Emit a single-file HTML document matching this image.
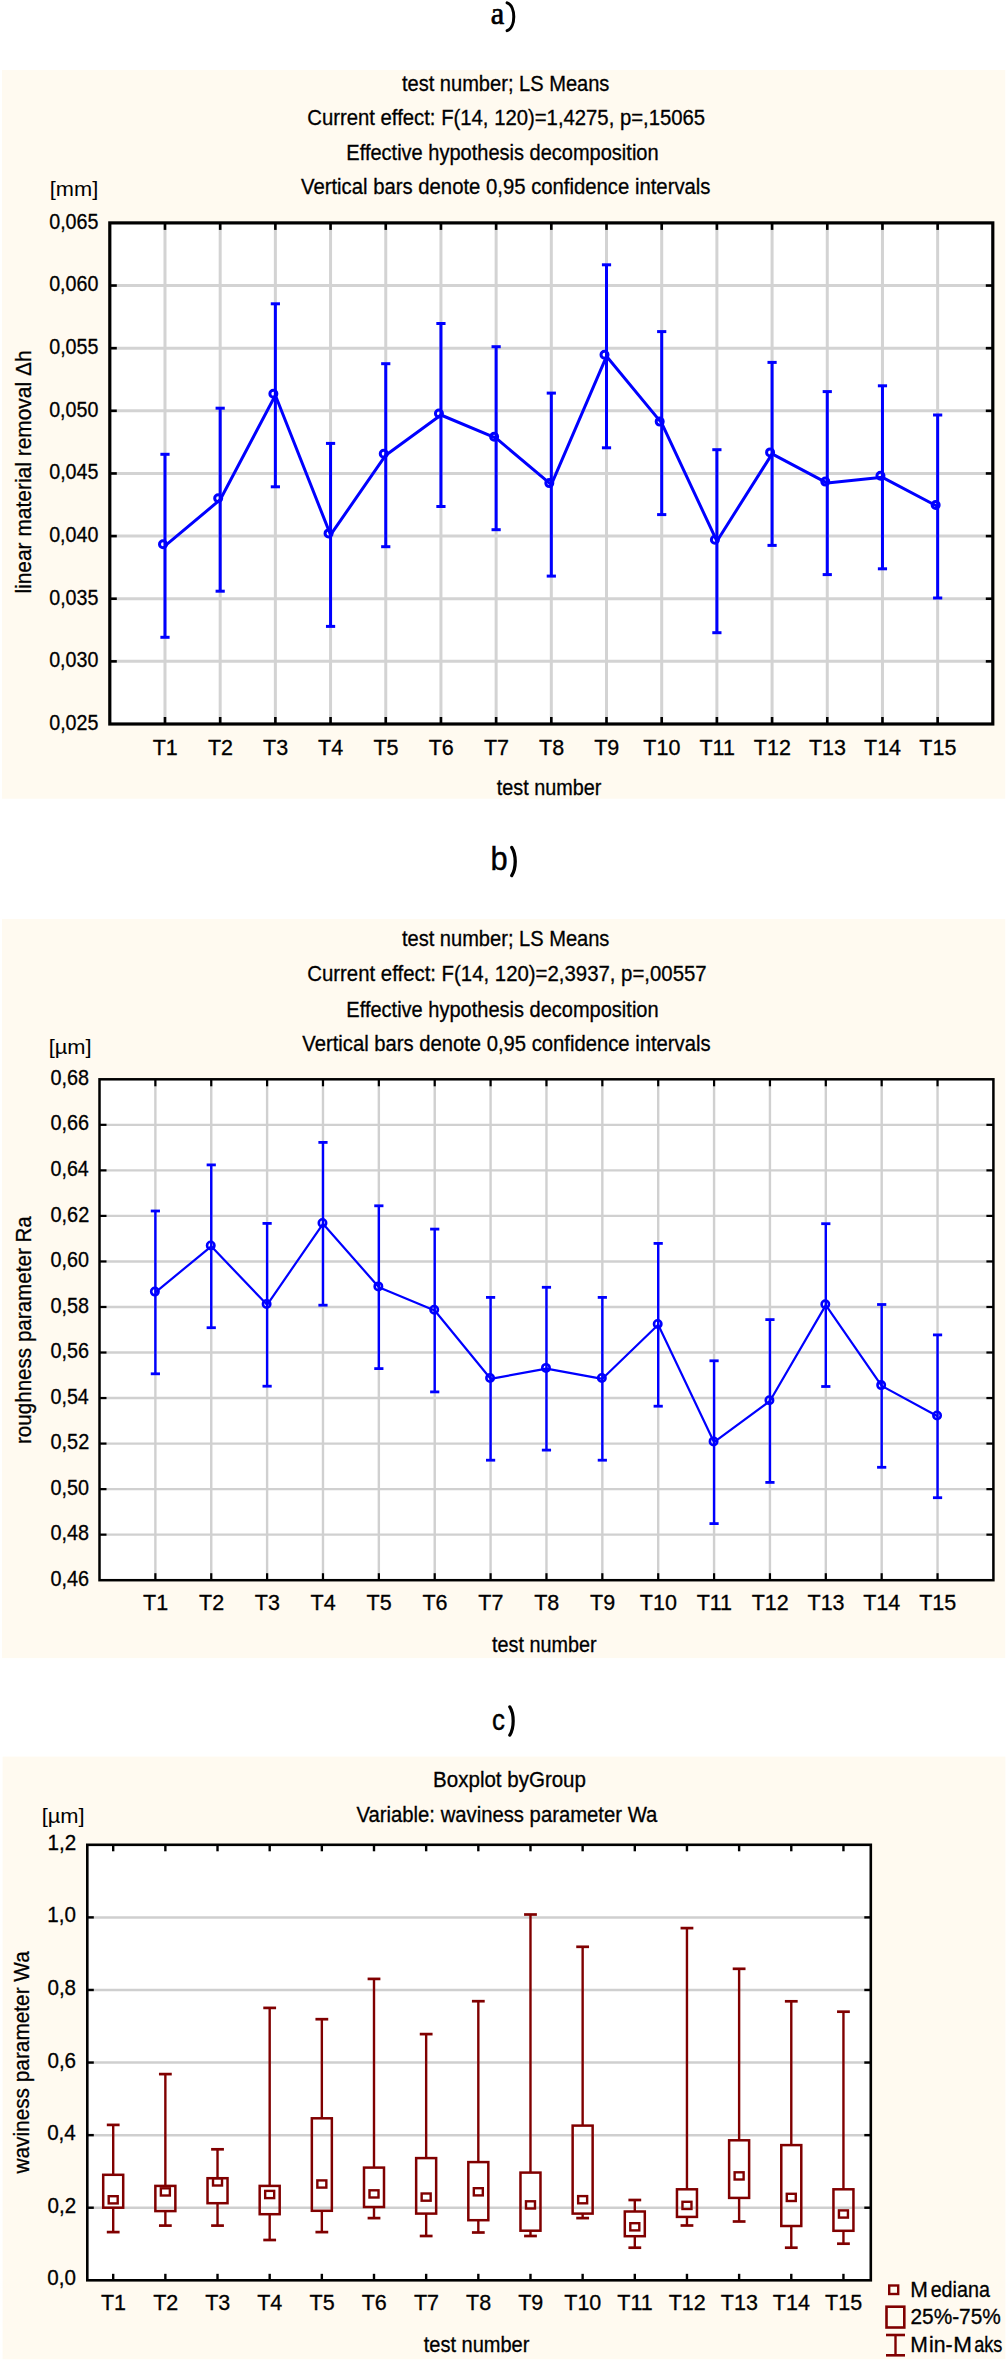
<!DOCTYPE html>
<html><head><meta charset="utf-8"><style>
html,body{margin:0;padding:0;background:#fff;overflow:hidden;}
svg{display:block;}
text{font-family:"Liberation Sans", sans-serif;}
</style></head><body>
<svg width="1008" height="2362" viewBox="0 0 1008 2362">
<text x="490.69" y="23.84" font-size="31.46" fill="#000" stroke="#000" stroke-width="0.7" style='font-family:"Liberation Serif", serif' textLength="13.48" lengthAdjust="spacingAndGlyphs">a</text>
<path d="M507.1 2.8 C516 6,516 27.5,507.1 30.7" fill="none" stroke="#000" stroke-width="3.0" stroke-linecap="round"/>
<text x="490.39" y="870.47" font-size="32.52" fill="#000" stroke="#000" stroke-width="0.4" style='font-family:"Liberation Sans", sans-serif' textLength="17.18" lengthAdjust="spacingAndGlyphs">b</text>
<path d="M511.7 847.4 C516.4 855,516.4 868,511.7 875.6" fill="none" stroke="#000" stroke-width="3.3" stroke-linecap="round"/>
<text x="492.10" y="1729.71" font-size="29.04" fill="#000" stroke="#000" stroke-width="0.4" style='font-family:"Liberation Sans", sans-serif' textLength="12.91" lengthAdjust="spacingAndGlyphs">c</text>
<path d="M509.8 1706.9 C514.3 1714,514.3 1728,509.8 1735.1" fill="none" stroke="#000" stroke-width="3.2" stroke-linecap="round"/>
<rect x="2.00" y="70.00" width="1003.20" height="728.70" fill="#FFFAF0" stroke="none" stroke-width="0" />
<rect x="109.80" y="222.90" width="883.00" height="501.10" fill="#fff" stroke="none" stroke-width="0" />
<line x1="164.99" y1="222.90" x2="164.99" y2="724.00" stroke="#D3D3D3" stroke-width="3.0" />
<line x1="220.18" y1="222.90" x2="220.18" y2="724.00" stroke="#D3D3D3" stroke-width="3.0" />
<line x1="275.37" y1="222.90" x2="275.37" y2="724.00" stroke="#D3D3D3" stroke-width="3.0" />
<line x1="330.56" y1="222.90" x2="330.56" y2="724.00" stroke="#D3D3D3" stroke-width="3.0" />
<line x1="385.75" y1="222.90" x2="385.75" y2="724.00" stroke="#D3D3D3" stroke-width="3.0" />
<line x1="440.94" y1="222.90" x2="440.94" y2="724.00" stroke="#D3D3D3" stroke-width="3.0" />
<line x1="496.13" y1="222.90" x2="496.13" y2="724.00" stroke="#D3D3D3" stroke-width="3.0" />
<line x1="551.32" y1="222.90" x2="551.32" y2="724.00" stroke="#D3D3D3" stroke-width="3.0" />
<line x1="606.51" y1="222.90" x2="606.51" y2="724.00" stroke="#D3D3D3" stroke-width="3.0" />
<line x1="661.70" y1="222.90" x2="661.70" y2="724.00" stroke="#D3D3D3" stroke-width="3.0" />
<line x1="716.89" y1="222.90" x2="716.89" y2="724.00" stroke="#D3D3D3" stroke-width="3.0" />
<line x1="772.08" y1="222.90" x2="772.08" y2="724.00" stroke="#D3D3D3" stroke-width="3.0" />
<line x1="827.27" y1="222.90" x2="827.27" y2="724.00" stroke="#D3D3D3" stroke-width="3.0" />
<line x1="882.46" y1="222.90" x2="882.46" y2="724.00" stroke="#D3D3D3" stroke-width="3.0" />
<line x1="937.65" y1="222.90" x2="937.65" y2="724.00" stroke="#D3D3D3" stroke-width="3.0" />
<line x1="109.80" y1="285.54" x2="992.80" y2="285.54" stroke="#D3D3D3" stroke-width="3.0" />
<line x1="109.80" y1="348.18" x2="992.80" y2="348.18" stroke="#D3D3D3" stroke-width="3.0" />
<line x1="109.80" y1="410.81" x2="992.80" y2="410.81" stroke="#D3D3D3" stroke-width="3.0" />
<line x1="109.80" y1="473.45" x2="992.80" y2="473.45" stroke="#D3D3D3" stroke-width="3.0" />
<line x1="109.80" y1="536.09" x2="992.80" y2="536.09" stroke="#D3D3D3" stroke-width="3.0" />
<line x1="109.80" y1="598.73" x2="992.80" y2="598.73" stroke="#D3D3D3" stroke-width="3.0" />
<line x1="109.80" y1="661.36" x2="992.80" y2="661.36" stroke="#D3D3D3" stroke-width="3.0" />
<line x1="164.99" y1="222.90" x2="164.99" y2="229.90" stroke="#000" stroke-width="2.6" />
<line x1="164.99" y1="724.00" x2="164.99" y2="717.00" stroke="#000" stroke-width="2.6" />
<line x1="220.18" y1="222.90" x2="220.18" y2="229.90" stroke="#000" stroke-width="2.6" />
<line x1="220.18" y1="724.00" x2="220.18" y2="717.00" stroke="#000" stroke-width="2.6" />
<line x1="275.37" y1="222.90" x2="275.37" y2="229.90" stroke="#000" stroke-width="2.6" />
<line x1="275.37" y1="724.00" x2="275.37" y2="717.00" stroke="#000" stroke-width="2.6" />
<line x1="330.56" y1="222.90" x2="330.56" y2="229.90" stroke="#000" stroke-width="2.6" />
<line x1="330.56" y1="724.00" x2="330.56" y2="717.00" stroke="#000" stroke-width="2.6" />
<line x1="385.75" y1="222.90" x2="385.75" y2="229.90" stroke="#000" stroke-width="2.6" />
<line x1="385.75" y1="724.00" x2="385.75" y2="717.00" stroke="#000" stroke-width="2.6" />
<line x1="440.94" y1="222.90" x2="440.94" y2="229.90" stroke="#000" stroke-width="2.6" />
<line x1="440.94" y1="724.00" x2="440.94" y2="717.00" stroke="#000" stroke-width="2.6" />
<line x1="496.13" y1="222.90" x2="496.13" y2="229.90" stroke="#000" stroke-width="2.6" />
<line x1="496.13" y1="724.00" x2="496.13" y2="717.00" stroke="#000" stroke-width="2.6" />
<line x1="551.32" y1="222.90" x2="551.32" y2="229.90" stroke="#000" stroke-width="2.6" />
<line x1="551.32" y1="724.00" x2="551.32" y2="717.00" stroke="#000" stroke-width="2.6" />
<line x1="606.51" y1="222.90" x2="606.51" y2="229.90" stroke="#000" stroke-width="2.6" />
<line x1="606.51" y1="724.00" x2="606.51" y2="717.00" stroke="#000" stroke-width="2.6" />
<line x1="661.70" y1="222.90" x2="661.70" y2="229.90" stroke="#000" stroke-width="2.6" />
<line x1="661.70" y1="724.00" x2="661.70" y2="717.00" stroke="#000" stroke-width="2.6" />
<line x1="716.89" y1="222.90" x2="716.89" y2="229.90" stroke="#000" stroke-width="2.6" />
<line x1="716.89" y1="724.00" x2="716.89" y2="717.00" stroke="#000" stroke-width="2.6" />
<line x1="772.08" y1="222.90" x2="772.08" y2="229.90" stroke="#000" stroke-width="2.6" />
<line x1="772.08" y1="724.00" x2="772.08" y2="717.00" stroke="#000" stroke-width="2.6" />
<line x1="827.27" y1="222.90" x2="827.27" y2="229.90" stroke="#000" stroke-width="2.6" />
<line x1="827.27" y1="724.00" x2="827.27" y2="717.00" stroke="#000" stroke-width="2.6" />
<line x1="882.46" y1="222.90" x2="882.46" y2="229.90" stroke="#000" stroke-width="2.6" />
<line x1="882.46" y1="724.00" x2="882.46" y2="717.00" stroke="#000" stroke-width="2.6" />
<line x1="937.65" y1="222.90" x2="937.65" y2="229.90" stroke="#000" stroke-width="2.6" />
<line x1="937.65" y1="724.00" x2="937.65" y2="717.00" stroke="#000" stroke-width="2.6" />
<line x1="109.80" y1="285.54" x2="116.80" y2="285.54" stroke="#000" stroke-width="2.6" />
<line x1="992.80" y1="285.54" x2="985.80" y2="285.54" stroke="#000" stroke-width="2.6" />
<line x1="109.80" y1="348.18" x2="116.80" y2="348.18" stroke="#000" stroke-width="2.6" />
<line x1="992.80" y1="348.18" x2="985.80" y2="348.18" stroke="#000" stroke-width="2.6" />
<line x1="109.80" y1="410.81" x2="116.80" y2="410.81" stroke="#000" stroke-width="2.6" />
<line x1="992.80" y1="410.81" x2="985.80" y2="410.81" stroke="#000" stroke-width="2.6" />
<line x1="109.80" y1="473.45" x2="116.80" y2="473.45" stroke="#000" stroke-width="2.6" />
<line x1="992.80" y1="473.45" x2="985.80" y2="473.45" stroke="#000" stroke-width="2.6" />
<line x1="109.80" y1="536.09" x2="116.80" y2="536.09" stroke="#000" stroke-width="2.6" />
<line x1="992.80" y1="536.09" x2="985.80" y2="536.09" stroke="#000" stroke-width="2.6" />
<line x1="109.80" y1="598.73" x2="116.80" y2="598.73" stroke="#000" stroke-width="2.6" />
<line x1="992.80" y1="598.73" x2="985.80" y2="598.73" stroke="#000" stroke-width="2.6" />
<line x1="109.80" y1="661.36" x2="116.80" y2="661.36" stroke="#000" stroke-width="2.6" />
<line x1="992.80" y1="661.36" x2="985.80" y2="661.36" stroke="#000" stroke-width="2.6" />
<rect x="109.80" y="222.90" width="883.00" height="501.10" fill="none" stroke="#000" stroke-width="3.2" />
<text x="49.21" y="228.80" font-size="21.5" fill="#000" textLength="49.17" lengthAdjust="spacingAndGlyphs" stroke="#000" stroke-width="0.3">0,065</text>
<text x="49.21" y="291.44" font-size="21.5" fill="#000" textLength="49.12" lengthAdjust="spacingAndGlyphs" stroke="#000" stroke-width="0.3">0,060</text>
<text x="49.21" y="354.07" font-size="21.5" fill="#000" textLength="49.17" lengthAdjust="spacingAndGlyphs" stroke="#000" stroke-width="0.3">0,055</text>
<text x="49.21" y="416.71" font-size="21.5" fill="#000" textLength="49.12" lengthAdjust="spacingAndGlyphs" stroke="#000" stroke-width="0.3">0,050</text>
<text x="49.21" y="479.35" font-size="21.5" fill="#000" textLength="49.17" lengthAdjust="spacingAndGlyphs" stroke="#000" stroke-width="0.3">0,045</text>
<text x="49.21" y="541.99" font-size="21.5" fill="#000" textLength="49.12" lengthAdjust="spacingAndGlyphs" stroke="#000" stroke-width="0.3">0,040</text>
<text x="49.21" y="604.62" font-size="21.5" fill="#000" textLength="49.17" lengthAdjust="spacingAndGlyphs" stroke="#000" stroke-width="0.3">0,035</text>
<text x="49.21" y="667.26" font-size="21.5" fill="#000" textLength="49.12" lengthAdjust="spacingAndGlyphs" stroke="#000" stroke-width="0.3">0,030</text>
<text x="49.21" y="729.90" font-size="21.5" fill="#000" textLength="49.17" lengthAdjust="spacingAndGlyphs" stroke="#000" stroke-width="0.3">0,025</text>
<line x1="164.99" y1="454.30" x2="164.99" y2="637.30" stroke="#0000FF" stroke-width="3" />
<line x1="160.39" y1="454.30" x2="169.59" y2="454.30" stroke="#0000FF" stroke-width="3" />
<line x1="160.39" y1="637.30" x2="169.59" y2="637.30" stroke="#0000FF" stroke-width="3" />
<line x1="220.18" y1="408.20" x2="220.18" y2="591.20" stroke="#0000FF" stroke-width="3" />
<line x1="215.58" y1="408.20" x2="224.78" y2="408.20" stroke="#0000FF" stroke-width="3" />
<line x1="215.58" y1="591.20" x2="224.78" y2="591.20" stroke="#0000FF" stroke-width="3" />
<line x1="275.37" y1="303.80" x2="275.37" y2="486.80" stroke="#0000FF" stroke-width="3" />
<line x1="270.77" y1="303.80" x2="279.97" y2="303.80" stroke="#0000FF" stroke-width="3" />
<line x1="270.77" y1="486.80" x2="279.97" y2="486.80" stroke="#0000FF" stroke-width="3" />
<line x1="330.56" y1="443.40" x2="330.56" y2="626.40" stroke="#0000FF" stroke-width="3" />
<line x1="325.96" y1="443.40" x2="335.16" y2="443.40" stroke="#0000FF" stroke-width="3" />
<line x1="325.96" y1="626.40" x2="335.16" y2="626.40" stroke="#0000FF" stroke-width="3" />
<line x1="385.75" y1="363.70" x2="385.75" y2="546.70" stroke="#0000FF" stroke-width="3" />
<line x1="381.15" y1="363.70" x2="390.35" y2="363.70" stroke="#0000FF" stroke-width="3" />
<line x1="381.15" y1="546.70" x2="390.35" y2="546.70" stroke="#0000FF" stroke-width="3" />
<line x1="440.94" y1="323.50" x2="440.94" y2="506.50" stroke="#0000FF" stroke-width="3" />
<line x1="436.34" y1="323.50" x2="445.54" y2="323.50" stroke="#0000FF" stroke-width="3" />
<line x1="436.34" y1="506.50" x2="445.54" y2="506.50" stroke="#0000FF" stroke-width="3" />
<line x1="496.13" y1="346.70" x2="496.13" y2="529.70" stroke="#0000FF" stroke-width="3" />
<line x1="491.53" y1="346.70" x2="500.73" y2="346.70" stroke="#0000FF" stroke-width="3" />
<line x1="491.53" y1="529.70" x2="500.73" y2="529.70" stroke="#0000FF" stroke-width="3" />
<line x1="551.32" y1="393.10" x2="551.32" y2="576.10" stroke="#0000FF" stroke-width="3" />
<line x1="546.72" y1="393.10" x2="555.92" y2="393.10" stroke="#0000FF" stroke-width="3" />
<line x1="546.72" y1="576.10" x2="555.92" y2="576.10" stroke="#0000FF" stroke-width="3" />
<line x1="606.51" y1="264.80" x2="606.51" y2="447.80" stroke="#0000FF" stroke-width="3" />
<line x1="601.91" y1="264.80" x2="611.11" y2="264.80" stroke="#0000FF" stroke-width="3" />
<line x1="601.91" y1="447.80" x2="611.11" y2="447.80" stroke="#0000FF" stroke-width="3" />
<line x1="661.70" y1="331.60" x2="661.70" y2="514.60" stroke="#0000FF" stroke-width="3" />
<line x1="657.10" y1="331.60" x2="666.30" y2="331.60" stroke="#0000FF" stroke-width="3" />
<line x1="657.10" y1="514.60" x2="666.30" y2="514.60" stroke="#0000FF" stroke-width="3" />
<line x1="716.89" y1="449.70" x2="716.89" y2="632.70" stroke="#0000FF" stroke-width="3" />
<line x1="712.29" y1="449.70" x2="721.49" y2="449.70" stroke="#0000FF" stroke-width="3" />
<line x1="712.29" y1="632.70" x2="721.49" y2="632.70" stroke="#0000FF" stroke-width="3" />
<line x1="772.08" y1="362.40" x2="772.08" y2="545.40" stroke="#0000FF" stroke-width="3" />
<line x1="767.48" y1="362.40" x2="776.68" y2="362.40" stroke="#0000FF" stroke-width="3" />
<line x1="767.48" y1="545.40" x2="776.68" y2="545.40" stroke="#0000FF" stroke-width="3" />
<line x1="827.27" y1="391.60" x2="827.27" y2="574.60" stroke="#0000FF" stroke-width="3" />
<line x1="822.67" y1="391.60" x2="831.87" y2="391.60" stroke="#0000FF" stroke-width="3" />
<line x1="822.67" y1="574.60" x2="831.87" y2="574.60" stroke="#0000FF" stroke-width="3" />
<line x1="882.46" y1="385.80" x2="882.46" y2="568.80" stroke="#0000FF" stroke-width="3" />
<line x1="877.86" y1="385.80" x2="887.06" y2="385.80" stroke="#0000FF" stroke-width="3" />
<line x1="877.86" y1="568.80" x2="887.06" y2="568.80" stroke="#0000FF" stroke-width="3" />
<line x1="937.65" y1="415.00" x2="937.65" y2="598.00" stroke="#0000FF" stroke-width="3" />
<line x1="933.05" y1="415.00" x2="942.25" y2="415.00" stroke="#0000FF" stroke-width="3" />
<line x1="933.05" y1="598.00" x2="942.25" y2="598.00" stroke="#0000FF" stroke-width="3" />
<polyline points="164.99,545.80 220.18,499.70 275.37,395.30 330.56,534.90 385.75,455.20 440.94,415.00 496.13,438.20 551.32,484.60 606.51,356.30 661.70,423.10 716.89,541.20 772.08,453.90 827.27,483.10 882.46,477.30 937.65,506.50" fill="none" stroke="#0000FF" stroke-width="3" stroke-linejoin="round"/>
<circle cx="162.99" cy="544.30" r="3.5" fill="none" stroke="#0000FF" stroke-width="3"/>
<circle cx="218.18" cy="498.20" r="3.5" fill="none" stroke="#0000FF" stroke-width="3"/>
<circle cx="273.37" cy="393.80" r="3.5" fill="none" stroke="#0000FF" stroke-width="3"/>
<circle cx="328.56" cy="533.40" r="3.5" fill="none" stroke="#0000FF" stroke-width="3"/>
<circle cx="383.75" cy="453.70" r="3.5" fill="none" stroke="#0000FF" stroke-width="3"/>
<circle cx="438.94" cy="413.50" r="3.5" fill="none" stroke="#0000FF" stroke-width="3"/>
<circle cx="494.13" cy="436.70" r="3.5" fill="none" stroke="#0000FF" stroke-width="3"/>
<circle cx="549.32" cy="483.10" r="3.5" fill="none" stroke="#0000FF" stroke-width="3"/>
<circle cx="604.51" cy="354.80" r="3.5" fill="none" stroke="#0000FF" stroke-width="3"/>
<circle cx="659.70" cy="421.60" r="3.5" fill="none" stroke="#0000FF" stroke-width="3"/>
<circle cx="714.89" cy="539.70" r="3.5" fill="none" stroke="#0000FF" stroke-width="3"/>
<circle cx="770.08" cy="452.40" r="3.5" fill="none" stroke="#0000FF" stroke-width="3"/>
<circle cx="825.27" cy="481.60" r="3.5" fill="none" stroke="#0000FF" stroke-width="3"/>
<circle cx="880.46" cy="475.80" r="3.5" fill="none" stroke="#0000FF" stroke-width="3"/>
<circle cx="935.65" cy="505.00" r="3.5" fill="none" stroke="#0000FF" stroke-width="3"/>
<text x="152.74" y="754.60" font-size="22.2" fill="#000" textLength="25.09" lengthAdjust="spacingAndGlyphs" stroke="#000" stroke-width="0.3">T1</text>
<text x="207.95" y="754.60" font-size="22.2" fill="#000" textLength="25.09" lengthAdjust="spacingAndGlyphs" stroke="#000" stroke-width="0.3">T2</text>
<text x="263.06" y="754.60" font-size="22.2" fill="#000" textLength="25.09" lengthAdjust="spacingAndGlyphs" stroke="#000" stroke-width="0.3">T3</text>
<text x="318.09" y="754.60" font-size="22.2" fill="#000" textLength="25.09" lengthAdjust="spacingAndGlyphs" stroke="#000" stroke-width="0.3">T4</text>
<text x="373.41" y="754.60" font-size="22.2" fill="#000" textLength="25.09" lengthAdjust="spacingAndGlyphs" stroke="#000" stroke-width="0.3">T5</text>
<text x="428.63" y="754.60" font-size="22.2" fill="#000" textLength="25.09" lengthAdjust="spacingAndGlyphs" stroke="#000" stroke-width="0.3">T6</text>
<text x="483.90" y="754.60" font-size="22.2" fill="#000" textLength="25.09" lengthAdjust="spacingAndGlyphs" stroke="#000" stroke-width="0.3">T7</text>
<text x="539.01" y="754.60" font-size="22.2" fill="#000" textLength="25.09" lengthAdjust="spacingAndGlyphs" stroke="#000" stroke-width="0.3">T8</text>
<text x="594.23" y="754.60" font-size="22.2" fill="#000" textLength="25.09" lengthAdjust="spacingAndGlyphs" stroke="#000" stroke-width="0.3">T9</text>
<text x="643.34" y="754.60" font-size="22.2" fill="#000" textLength="37.05" lengthAdjust="spacingAndGlyphs" stroke="#000" stroke-width="0.3">T10</text>
<text x="699.45" y="754.60" font-size="22.2" fill="#000" textLength="35.45" lengthAdjust="spacingAndGlyphs" stroke="#000" stroke-width="0.3">T11</text>
<text x="753.86" y="754.60" font-size="22.2" fill="#000" textLength="37.05" lengthAdjust="spacingAndGlyphs" stroke="#000" stroke-width="0.3">T12</text>
<text x="808.97" y="754.60" font-size="22.2" fill="#000" textLength="37.05" lengthAdjust="spacingAndGlyphs" stroke="#000" stroke-width="0.3">T13</text>
<text x="864.00" y="754.60" font-size="22.2" fill="#000" textLength="37.05" lengthAdjust="spacingAndGlyphs" stroke="#000" stroke-width="0.3">T14</text>
<text x="919.32" y="754.60" font-size="22.2" fill="#000" textLength="37.05" lengthAdjust="spacingAndGlyphs" stroke="#000" stroke-width="0.3">T15</text>
<text x="401.90" y="90.50" font-size="21.3" fill="#000" textLength="207.53" lengthAdjust="spacingAndGlyphs" stroke="#000" stroke-width="0.3">test number; LS Means</text>
<text x="307.29" y="125.10" font-size="21.3" fill="#000" textLength="397.86" lengthAdjust="spacingAndGlyphs" stroke="#000" stroke-width="0.3">Current effect: F(14, 120)=1,4275, p=,15065</text>
<text x="346.35" y="159.70" font-size="21.3" fill="#000" textLength="312.24" lengthAdjust="spacingAndGlyphs" stroke="#000" stroke-width="0.3">Effective hypothesis decomposition</text>
<text x="301.00" y="194.30" font-size="21.3" fill="#000" textLength="409.51" lengthAdjust="spacingAndGlyphs" stroke="#000" stroke-width="0.3">Vertical bars denote 0,95 confidence intervals</text>
<text x="49.77" y="196.42" font-size="21.13" fill="#000" style='font-family:"Liberation Sans", sans-serif' textLength="48.44" lengthAdjust="spacingAndGlyphs">[mm]</text>
<text x="496.80" y="795.20" font-size="21.3" fill="#000" textLength="104.60" lengthAdjust="spacingAndGlyphs" stroke="#000" stroke-width="0.3">test number</text>
<text transform="translate(30.70 472.00) rotate(-90)" x="-121.61" y="0" font-size="21.3" textLength="243.16" lengthAdjust="spacingAndGlyphs" stroke="#000" stroke-width="0.3">linear material removal Δh</text>
<rect x="2.00" y="919.00" width="1003.20" height="739.10" fill="#FFFAF0" stroke="none" stroke-width="0" />
<rect x="99.50" y="1079.30" width="893.90" height="500.90" fill="#fff" stroke="none" stroke-width="0" />
<line x1="155.37" y1="1079.30" x2="155.37" y2="1580.20" stroke="#D0D0D0" stroke-width="2.4" />
<line x1="211.24" y1="1079.30" x2="211.24" y2="1580.20" stroke="#D0D0D0" stroke-width="2.4" />
<line x1="267.11" y1="1079.30" x2="267.11" y2="1580.20" stroke="#D0D0D0" stroke-width="2.4" />
<line x1="322.98" y1="1079.30" x2="322.98" y2="1580.20" stroke="#D0D0D0" stroke-width="2.4" />
<line x1="378.85" y1="1079.30" x2="378.85" y2="1580.20" stroke="#D0D0D0" stroke-width="2.4" />
<line x1="434.72" y1="1079.30" x2="434.72" y2="1580.20" stroke="#D0D0D0" stroke-width="2.4" />
<line x1="490.59" y1="1079.30" x2="490.59" y2="1580.20" stroke="#D0D0D0" stroke-width="2.4" />
<line x1="546.46" y1="1079.30" x2="546.46" y2="1580.20" stroke="#D0D0D0" stroke-width="2.4" />
<line x1="602.33" y1="1079.30" x2="602.33" y2="1580.20" stroke="#D0D0D0" stroke-width="2.4" />
<line x1="658.20" y1="1079.30" x2="658.20" y2="1580.20" stroke="#D0D0D0" stroke-width="2.4" />
<line x1="714.07" y1="1079.30" x2="714.07" y2="1580.20" stroke="#D0D0D0" stroke-width="2.4" />
<line x1="769.94" y1="1079.30" x2="769.94" y2="1580.20" stroke="#D0D0D0" stroke-width="2.4" />
<line x1="825.81" y1="1079.30" x2="825.81" y2="1580.20" stroke="#D0D0D0" stroke-width="2.4" />
<line x1="881.68" y1="1079.30" x2="881.68" y2="1580.20" stroke="#D0D0D0" stroke-width="2.4" />
<line x1="937.55" y1="1079.30" x2="937.55" y2="1580.20" stroke="#D0D0D0" stroke-width="2.4" />
<line x1="99.50" y1="1124.84" x2="993.40" y2="1124.84" stroke="#D0D0D0" stroke-width="2.4" />
<line x1="99.50" y1="1170.37" x2="993.40" y2="1170.37" stroke="#D0D0D0" stroke-width="2.4" />
<line x1="99.50" y1="1215.91" x2="993.40" y2="1215.91" stroke="#D0D0D0" stroke-width="2.4" />
<line x1="99.50" y1="1261.45" x2="993.40" y2="1261.45" stroke="#D0D0D0" stroke-width="2.4" />
<line x1="99.50" y1="1306.98" x2="993.40" y2="1306.98" stroke="#D0D0D0" stroke-width="2.4" />
<line x1="99.50" y1="1352.52" x2="993.40" y2="1352.52" stroke="#D0D0D0" stroke-width="2.4" />
<line x1="99.50" y1="1398.05" x2="993.40" y2="1398.05" stroke="#D0D0D0" stroke-width="2.4" />
<line x1="99.50" y1="1443.59" x2="993.40" y2="1443.59" stroke="#D0D0D0" stroke-width="2.4" />
<line x1="99.50" y1="1489.13" x2="993.40" y2="1489.13" stroke="#D0D0D0" stroke-width="2.4" />
<line x1="99.50" y1="1534.66" x2="993.40" y2="1534.66" stroke="#D0D0D0" stroke-width="2.4" />
<line x1="155.37" y1="1079.30" x2="155.37" y2="1086.30" stroke="#000" stroke-width="2.2" />
<line x1="155.37" y1="1580.20" x2="155.37" y2="1573.20" stroke="#000" stroke-width="2.2" />
<line x1="211.24" y1="1079.30" x2="211.24" y2="1086.30" stroke="#000" stroke-width="2.2" />
<line x1="211.24" y1="1580.20" x2="211.24" y2="1573.20" stroke="#000" stroke-width="2.2" />
<line x1="267.11" y1="1079.30" x2="267.11" y2="1086.30" stroke="#000" stroke-width="2.2" />
<line x1="267.11" y1="1580.20" x2="267.11" y2="1573.20" stroke="#000" stroke-width="2.2" />
<line x1="322.98" y1="1079.30" x2="322.98" y2="1086.30" stroke="#000" stroke-width="2.2" />
<line x1="322.98" y1="1580.20" x2="322.98" y2="1573.20" stroke="#000" stroke-width="2.2" />
<line x1="378.85" y1="1079.30" x2="378.85" y2="1086.30" stroke="#000" stroke-width="2.2" />
<line x1="378.85" y1="1580.20" x2="378.85" y2="1573.20" stroke="#000" stroke-width="2.2" />
<line x1="434.72" y1="1079.30" x2="434.72" y2="1086.30" stroke="#000" stroke-width="2.2" />
<line x1="434.72" y1="1580.20" x2="434.72" y2="1573.20" stroke="#000" stroke-width="2.2" />
<line x1="490.59" y1="1079.30" x2="490.59" y2="1086.30" stroke="#000" stroke-width="2.2" />
<line x1="490.59" y1="1580.20" x2="490.59" y2="1573.20" stroke="#000" stroke-width="2.2" />
<line x1="546.46" y1="1079.30" x2="546.46" y2="1086.30" stroke="#000" stroke-width="2.2" />
<line x1="546.46" y1="1580.20" x2="546.46" y2="1573.20" stroke="#000" stroke-width="2.2" />
<line x1="602.33" y1="1079.30" x2="602.33" y2="1086.30" stroke="#000" stroke-width="2.2" />
<line x1="602.33" y1="1580.20" x2="602.33" y2="1573.20" stroke="#000" stroke-width="2.2" />
<line x1="658.20" y1="1079.30" x2="658.20" y2="1086.30" stroke="#000" stroke-width="2.2" />
<line x1="658.20" y1="1580.20" x2="658.20" y2="1573.20" stroke="#000" stroke-width="2.2" />
<line x1="714.07" y1="1079.30" x2="714.07" y2="1086.30" stroke="#000" stroke-width="2.2" />
<line x1="714.07" y1="1580.20" x2="714.07" y2="1573.20" stroke="#000" stroke-width="2.2" />
<line x1="769.94" y1="1079.30" x2="769.94" y2="1086.30" stroke="#000" stroke-width="2.2" />
<line x1="769.94" y1="1580.20" x2="769.94" y2="1573.20" stroke="#000" stroke-width="2.2" />
<line x1="825.81" y1="1079.30" x2="825.81" y2="1086.30" stroke="#000" stroke-width="2.2" />
<line x1="825.81" y1="1580.20" x2="825.81" y2="1573.20" stroke="#000" stroke-width="2.2" />
<line x1="881.68" y1="1079.30" x2="881.68" y2="1086.30" stroke="#000" stroke-width="2.2" />
<line x1="881.68" y1="1580.20" x2="881.68" y2="1573.20" stroke="#000" stroke-width="2.2" />
<line x1="937.55" y1="1079.30" x2="937.55" y2="1086.30" stroke="#000" stroke-width="2.2" />
<line x1="937.55" y1="1580.20" x2="937.55" y2="1573.20" stroke="#000" stroke-width="2.2" />
<line x1="99.50" y1="1124.84" x2="106.50" y2="1124.84" stroke="#000" stroke-width="2.2" />
<line x1="993.40" y1="1124.84" x2="986.40" y2="1124.84" stroke="#000" stroke-width="2.2" />
<line x1="99.50" y1="1170.37" x2="106.50" y2="1170.37" stroke="#000" stroke-width="2.2" />
<line x1="993.40" y1="1170.37" x2="986.40" y2="1170.37" stroke="#000" stroke-width="2.2" />
<line x1="99.50" y1="1215.91" x2="106.50" y2="1215.91" stroke="#000" stroke-width="2.2" />
<line x1="993.40" y1="1215.91" x2="986.40" y2="1215.91" stroke="#000" stroke-width="2.2" />
<line x1="99.50" y1="1261.45" x2="106.50" y2="1261.45" stroke="#000" stroke-width="2.2" />
<line x1="993.40" y1="1261.45" x2="986.40" y2="1261.45" stroke="#000" stroke-width="2.2" />
<line x1="99.50" y1="1306.98" x2="106.50" y2="1306.98" stroke="#000" stroke-width="2.2" />
<line x1="993.40" y1="1306.98" x2="986.40" y2="1306.98" stroke="#000" stroke-width="2.2" />
<line x1="99.50" y1="1352.52" x2="106.50" y2="1352.52" stroke="#000" stroke-width="2.2" />
<line x1="993.40" y1="1352.52" x2="986.40" y2="1352.52" stroke="#000" stroke-width="2.2" />
<line x1="99.50" y1="1398.05" x2="106.50" y2="1398.05" stroke="#000" stroke-width="2.2" />
<line x1="993.40" y1="1398.05" x2="986.40" y2="1398.05" stroke="#000" stroke-width="2.2" />
<line x1="99.50" y1="1443.59" x2="106.50" y2="1443.59" stroke="#000" stroke-width="2.2" />
<line x1="993.40" y1="1443.59" x2="986.40" y2="1443.59" stroke="#000" stroke-width="2.2" />
<line x1="99.50" y1="1489.13" x2="106.50" y2="1489.13" stroke="#000" stroke-width="2.2" />
<line x1="993.40" y1="1489.13" x2="986.40" y2="1489.13" stroke="#000" stroke-width="2.2" />
<line x1="99.50" y1="1534.66" x2="106.50" y2="1534.66" stroke="#000" stroke-width="2.2" />
<line x1="993.40" y1="1534.66" x2="986.40" y2="1534.66" stroke="#000" stroke-width="2.2" />
<rect x="99.50" y="1079.30" width="893.90" height="500.90" fill="none" stroke="#000" stroke-width="2.5" />
<text x="50.51" y="1084.90" font-size="21.5" fill="#000" textLength="38.56" lengthAdjust="spacingAndGlyphs" stroke="#000" stroke-width="0.3">0,68</text>
<text x="50.51" y="1130.44" font-size="21.5" fill="#000" textLength="38.56" lengthAdjust="spacingAndGlyphs" stroke="#000" stroke-width="0.3">0,66</text>
<text x="50.51" y="1175.97" font-size="21.5" fill="#000" textLength="38.25" lengthAdjust="spacingAndGlyphs" stroke="#000" stroke-width="0.3">0,64</text>
<text x="50.50" y="1221.51" font-size="21.5" fill="#000" textLength="38.72" lengthAdjust="spacingAndGlyphs" stroke="#000" stroke-width="0.3">0,62</text>
<text x="50.51" y="1267.05" font-size="21.5" fill="#000" textLength="38.46" lengthAdjust="spacingAndGlyphs" stroke="#000" stroke-width="0.3">0,60</text>
<text x="50.51" y="1312.58" font-size="21.5" fill="#000" textLength="38.56" lengthAdjust="spacingAndGlyphs" stroke="#000" stroke-width="0.3">0,58</text>
<text x="50.51" y="1358.12" font-size="21.5" fill="#000" textLength="38.56" lengthAdjust="spacingAndGlyphs" stroke="#000" stroke-width="0.3">0,56</text>
<text x="50.51" y="1403.65" font-size="21.5" fill="#000" textLength="38.25" lengthAdjust="spacingAndGlyphs" stroke="#000" stroke-width="0.3">0,54</text>
<text x="50.50" y="1449.19" font-size="21.5" fill="#000" textLength="38.72" lengthAdjust="spacingAndGlyphs" stroke="#000" stroke-width="0.3">0,52</text>
<text x="50.51" y="1494.73" font-size="21.5" fill="#000" textLength="38.46" lengthAdjust="spacingAndGlyphs" stroke="#000" stroke-width="0.3">0,50</text>
<text x="50.51" y="1540.26" font-size="21.5" fill="#000" textLength="38.56" lengthAdjust="spacingAndGlyphs" stroke="#000" stroke-width="0.3">0,48</text>
<text x="50.51" y="1585.80" font-size="21.5" fill="#000" textLength="38.56" lengthAdjust="spacingAndGlyphs" stroke="#000" stroke-width="0.3">0,46</text>
<line x1="155.37" y1="1211.00" x2="155.37" y2="1373.80" stroke="#0000FF" stroke-width="2.4" />
<line x1="150.77" y1="1211.00" x2="159.97" y2="1211.00" stroke="#0000FF" stroke-width="2.8" />
<line x1="150.77" y1="1373.80" x2="159.97" y2="1373.80" stroke="#0000FF" stroke-width="2.8" />
<line x1="211.24" y1="1164.90" x2="211.24" y2="1327.70" stroke="#0000FF" stroke-width="2.4" />
<line x1="206.64" y1="1164.90" x2="215.84" y2="1164.90" stroke="#0000FF" stroke-width="2.8" />
<line x1="206.64" y1="1327.70" x2="215.84" y2="1327.70" stroke="#0000FF" stroke-width="2.8" />
<line x1="267.11" y1="1223.40" x2="267.11" y2="1386.20" stroke="#0000FF" stroke-width="2.4" />
<line x1="262.51" y1="1223.40" x2="271.71" y2="1223.40" stroke="#0000FF" stroke-width="2.8" />
<line x1="262.51" y1="1386.20" x2="271.71" y2="1386.20" stroke="#0000FF" stroke-width="2.8" />
<line x1="322.98" y1="1142.40" x2="322.98" y2="1305.20" stroke="#0000FF" stroke-width="2.4" />
<line x1="318.38" y1="1142.40" x2="327.58" y2="1142.40" stroke="#0000FF" stroke-width="2.8" />
<line x1="318.38" y1="1305.20" x2="327.58" y2="1305.20" stroke="#0000FF" stroke-width="2.8" />
<line x1="378.85" y1="1205.80" x2="378.85" y2="1368.60" stroke="#0000FF" stroke-width="2.4" />
<line x1="374.25" y1="1205.80" x2="383.45" y2="1205.80" stroke="#0000FF" stroke-width="2.8" />
<line x1="374.25" y1="1368.60" x2="383.45" y2="1368.60" stroke="#0000FF" stroke-width="2.8" />
<line x1="434.72" y1="1229.10" x2="434.72" y2="1391.90" stroke="#0000FF" stroke-width="2.4" />
<line x1="430.12" y1="1229.10" x2="439.32" y2="1229.10" stroke="#0000FF" stroke-width="2.8" />
<line x1="430.12" y1="1391.90" x2="439.32" y2="1391.90" stroke="#0000FF" stroke-width="2.8" />
<line x1="490.59" y1="1297.40" x2="490.59" y2="1460.20" stroke="#0000FF" stroke-width="2.4" />
<line x1="485.99" y1="1297.40" x2="495.19" y2="1297.40" stroke="#0000FF" stroke-width="2.8" />
<line x1="485.99" y1="1460.20" x2="495.19" y2="1460.20" stroke="#0000FF" stroke-width="2.8" />
<line x1="546.46" y1="1287.30" x2="546.46" y2="1450.10" stroke="#0000FF" stroke-width="2.4" />
<line x1="541.86" y1="1287.30" x2="551.06" y2="1287.30" stroke="#0000FF" stroke-width="2.8" />
<line x1="541.86" y1="1450.10" x2="551.06" y2="1450.10" stroke="#0000FF" stroke-width="2.8" />
<line x1="602.33" y1="1297.40" x2="602.33" y2="1460.20" stroke="#0000FF" stroke-width="2.4" />
<line x1="597.73" y1="1297.40" x2="606.93" y2="1297.40" stroke="#0000FF" stroke-width="2.8" />
<line x1="597.73" y1="1460.20" x2="606.93" y2="1460.20" stroke="#0000FF" stroke-width="2.8" />
<line x1="658.20" y1="1243.40" x2="658.20" y2="1406.20" stroke="#0000FF" stroke-width="2.4" />
<line x1="653.60" y1="1243.40" x2="662.80" y2="1243.40" stroke="#0000FF" stroke-width="2.8" />
<line x1="653.60" y1="1406.20" x2="662.80" y2="1406.20" stroke="#0000FF" stroke-width="2.8" />
<line x1="714.07" y1="1360.80" x2="714.07" y2="1523.60" stroke="#0000FF" stroke-width="2.4" />
<line x1="709.47" y1="1360.80" x2="718.67" y2="1360.80" stroke="#0000FF" stroke-width="2.8" />
<line x1="709.47" y1="1523.60" x2="718.67" y2="1523.60" stroke="#0000FF" stroke-width="2.8" />
<line x1="769.94" y1="1319.60" x2="769.94" y2="1482.40" stroke="#0000FF" stroke-width="2.4" />
<line x1="765.34" y1="1319.60" x2="774.54" y2="1319.60" stroke="#0000FF" stroke-width="2.8" />
<line x1="765.34" y1="1482.40" x2="774.54" y2="1482.40" stroke="#0000FF" stroke-width="2.8" />
<line x1="825.81" y1="1223.70" x2="825.81" y2="1386.50" stroke="#0000FF" stroke-width="2.4" />
<line x1="821.21" y1="1223.70" x2="830.41" y2="1223.70" stroke="#0000FF" stroke-width="2.8" />
<line x1="821.21" y1="1386.50" x2="830.41" y2="1386.50" stroke="#0000FF" stroke-width="2.8" />
<line x1="881.68" y1="1304.50" x2="881.68" y2="1467.30" stroke="#0000FF" stroke-width="2.4" />
<line x1="877.08" y1="1304.50" x2="886.28" y2="1304.50" stroke="#0000FF" stroke-width="2.8" />
<line x1="877.08" y1="1467.30" x2="886.28" y2="1467.30" stroke="#0000FF" stroke-width="2.8" />
<line x1="937.55" y1="1334.90" x2="937.55" y2="1497.70" stroke="#0000FF" stroke-width="2.4" />
<line x1="932.95" y1="1334.90" x2="942.15" y2="1334.90" stroke="#0000FF" stroke-width="2.8" />
<line x1="932.95" y1="1497.70" x2="942.15" y2="1497.70" stroke="#0000FF" stroke-width="2.8" />
<polyline points="155.37,1292.40 211.24,1246.30 267.11,1304.80 322.98,1223.80 378.85,1287.20 434.72,1310.50 490.59,1378.80 546.46,1368.70 602.33,1378.80 658.20,1324.80 714.07,1442.20 769.94,1401.00 825.81,1305.10 881.68,1385.90 937.55,1416.30" fill="none" stroke="#0000FF" stroke-width="2.2" stroke-linejoin="round"/>
<circle cx="154.87" cy="1291.60" r="3.7" fill="none" stroke="#0000FF" stroke-width="2.6"/>
<circle cx="210.74" cy="1245.50" r="3.7" fill="none" stroke="#0000FF" stroke-width="2.6"/>
<circle cx="266.61" cy="1304.00" r="3.7" fill="none" stroke="#0000FF" stroke-width="2.6"/>
<circle cx="322.48" cy="1223.00" r="3.7" fill="none" stroke="#0000FF" stroke-width="2.6"/>
<circle cx="378.35" cy="1286.40" r="3.7" fill="none" stroke="#0000FF" stroke-width="2.6"/>
<circle cx="434.22" cy="1309.70" r="3.7" fill="none" stroke="#0000FF" stroke-width="2.6"/>
<circle cx="490.09" cy="1378.00" r="3.7" fill="none" stroke="#0000FF" stroke-width="2.6"/>
<circle cx="545.96" cy="1367.90" r="3.7" fill="none" stroke="#0000FF" stroke-width="2.6"/>
<circle cx="601.83" cy="1378.00" r="3.7" fill="none" stroke="#0000FF" stroke-width="2.6"/>
<circle cx="657.70" cy="1324.00" r="3.7" fill="none" stroke="#0000FF" stroke-width="2.6"/>
<circle cx="713.57" cy="1441.40" r="3.7" fill="none" stroke="#0000FF" stroke-width="2.6"/>
<circle cx="769.44" cy="1400.20" r="3.7" fill="none" stroke="#0000FF" stroke-width="2.6"/>
<circle cx="825.31" cy="1304.30" r="3.7" fill="none" stroke="#0000FF" stroke-width="2.6"/>
<circle cx="881.18" cy="1385.10" r="3.7" fill="none" stroke="#0000FF" stroke-width="2.6"/>
<circle cx="937.05" cy="1415.50" r="3.7" fill="none" stroke="#0000FF" stroke-width="2.6"/>
<text x="143.12" y="1609.80" font-size="22.2" fill="#000" textLength="25.09" lengthAdjust="spacingAndGlyphs" stroke="#000" stroke-width="0.3">T1</text>
<text x="199.01" y="1609.80" font-size="22.2" fill="#000" textLength="25.09" lengthAdjust="spacingAndGlyphs" stroke="#000" stroke-width="0.3">T2</text>
<text x="254.80" y="1609.80" font-size="22.2" fill="#000" textLength="25.09" lengthAdjust="spacingAndGlyphs" stroke="#000" stroke-width="0.3">T3</text>
<text x="310.51" y="1609.80" font-size="22.2" fill="#000" textLength="25.09" lengthAdjust="spacingAndGlyphs" stroke="#000" stroke-width="0.3">T4</text>
<text x="366.51" y="1609.80" font-size="22.2" fill="#000" textLength="25.09" lengthAdjust="spacingAndGlyphs" stroke="#000" stroke-width="0.3">T5</text>
<text x="422.41" y="1609.80" font-size="22.2" fill="#000" textLength="25.09" lengthAdjust="spacingAndGlyphs" stroke="#000" stroke-width="0.3">T6</text>
<text x="478.36" y="1609.80" font-size="22.2" fill="#000" textLength="25.09" lengthAdjust="spacingAndGlyphs" stroke="#000" stroke-width="0.3">T7</text>
<text x="534.15" y="1609.80" font-size="22.2" fill="#000" textLength="25.09" lengthAdjust="spacingAndGlyphs" stroke="#000" stroke-width="0.3">T8</text>
<text x="590.05" y="1609.80" font-size="22.2" fill="#000" textLength="25.09" lengthAdjust="spacingAndGlyphs" stroke="#000" stroke-width="0.3">T9</text>
<text x="639.84" y="1609.80" font-size="22.2" fill="#000" textLength="37.05" lengthAdjust="spacingAndGlyphs" stroke="#000" stroke-width="0.3">T10</text>
<text x="696.63" y="1609.80" font-size="22.2" fill="#000" textLength="35.45" lengthAdjust="spacingAndGlyphs" stroke="#000" stroke-width="0.3">T11</text>
<text x="751.72" y="1609.80" font-size="22.2" fill="#000" textLength="37.05" lengthAdjust="spacingAndGlyphs" stroke="#000" stroke-width="0.3">T12</text>
<text x="807.51" y="1609.80" font-size="22.2" fill="#000" textLength="37.05" lengthAdjust="spacingAndGlyphs" stroke="#000" stroke-width="0.3">T13</text>
<text x="863.22" y="1609.80" font-size="22.2" fill="#000" textLength="37.05" lengthAdjust="spacingAndGlyphs" stroke="#000" stroke-width="0.3">T14</text>
<text x="919.22" y="1609.80" font-size="22.2" fill="#000" textLength="37.05" lengthAdjust="spacingAndGlyphs" stroke="#000" stroke-width="0.3">T15</text>
<text x="401.90" y="946.00" font-size="21.3" fill="#000" textLength="207.53" lengthAdjust="spacingAndGlyphs" stroke="#000" stroke-width="0.3">test number; LS Means</text>
<text x="307.28" y="980.80" font-size="21.3" fill="#000" textLength="399.37" lengthAdjust="spacingAndGlyphs" stroke="#000" stroke-width="0.3">Current effect: F(14, 120)=2,3937, p=,00557</text>
<text x="346.35" y="1016.80" font-size="21.3" fill="#000" textLength="312.24" lengthAdjust="spacingAndGlyphs" stroke="#000" stroke-width="0.3">Effective hypothesis decomposition</text>
<text x="302.30" y="1051.30" font-size="21.3" fill="#000" textLength="408.21" lengthAdjust="spacingAndGlyphs" stroke="#000" stroke-width="0.3">Vertical bars denote 0,95 confidence intervals</text>
<text x="48.67" y="1053.99" font-size="20.27" fill="#000" style='font-family:"Liberation Sans", sans-serif' textLength="42.96" lengthAdjust="spacingAndGlyphs">[µm]</text>
<text x="492.10" y="1651.50" font-size="21.3" fill="#000" textLength="104.50" lengthAdjust="spacingAndGlyphs" stroke="#000" stroke-width="0.3">test number</text>
<text transform="translate(31.00 1329.45) rotate(-90)" x="-114.59" y="0" font-size="21.3" textLength="227.83" lengthAdjust="spacingAndGlyphs" stroke="#000" stroke-width="0.3">roughness parameter Ra</text>
<rect x="2.60" y="1756.60" width="1002.80" height="602.60" fill="#FFFAF0" stroke="none" stroke-width="0" />
<rect x="87.30" y="1844.80" width="783.50" height="435.50" fill="#fff" stroke="none" stroke-width="0" />
<line x1="87.30" y1="2207.72" x2="870.80" y2="2207.72" stroke="#CFCFCF" stroke-width="2.5" />
<line x1="87.30" y1="2135.13" x2="870.80" y2="2135.13" stroke="#CFCFCF" stroke-width="2.5" />
<line x1="87.30" y1="2062.55" x2="870.80" y2="2062.55" stroke="#CFCFCF" stroke-width="2.5" />
<line x1="87.30" y1="1989.97" x2="870.80" y2="1989.97" stroke="#CFCFCF" stroke-width="2.5" />
<line x1="87.30" y1="1917.38" x2="870.80" y2="1917.38" stroke="#CFCFCF" stroke-width="2.5" />
<line x1="113.20" y1="1844.80" x2="113.20" y2="1851.30" stroke="#000" stroke-width="2.4" />
<line x1="113.20" y1="2280.30" x2="113.20" y2="2273.80" stroke="#000" stroke-width="2.4" />
<line x1="165.36" y1="1844.80" x2="165.36" y2="1851.30" stroke="#000" stroke-width="2.4" />
<line x1="165.36" y1="2280.30" x2="165.36" y2="2273.80" stroke="#000" stroke-width="2.4" />
<line x1="217.52" y1="1844.80" x2="217.52" y2="1851.30" stroke="#000" stroke-width="2.4" />
<line x1="217.52" y1="2280.30" x2="217.52" y2="2273.80" stroke="#000" stroke-width="2.4" />
<line x1="269.68" y1="1844.80" x2="269.68" y2="1851.30" stroke="#000" stroke-width="2.4" />
<line x1="269.68" y1="2280.30" x2="269.68" y2="2273.80" stroke="#000" stroke-width="2.4" />
<line x1="321.84" y1="1844.80" x2="321.84" y2="1851.30" stroke="#000" stroke-width="2.4" />
<line x1="321.84" y1="2280.30" x2="321.84" y2="2273.80" stroke="#000" stroke-width="2.4" />
<line x1="374.00" y1="1844.80" x2="374.00" y2="1851.30" stroke="#000" stroke-width="2.4" />
<line x1="374.00" y1="2280.30" x2="374.00" y2="2273.80" stroke="#000" stroke-width="2.4" />
<line x1="426.16" y1="1844.80" x2="426.16" y2="1851.30" stroke="#000" stroke-width="2.4" />
<line x1="426.16" y1="2280.30" x2="426.16" y2="2273.80" stroke="#000" stroke-width="2.4" />
<line x1="478.32" y1="1844.80" x2="478.32" y2="1851.30" stroke="#000" stroke-width="2.4" />
<line x1="478.32" y1="2280.30" x2="478.32" y2="2273.80" stroke="#000" stroke-width="2.4" />
<line x1="530.48" y1="1844.80" x2="530.48" y2="1851.30" stroke="#000" stroke-width="2.4" />
<line x1="530.48" y1="2280.30" x2="530.48" y2="2273.80" stroke="#000" stroke-width="2.4" />
<line x1="582.64" y1="1844.80" x2="582.64" y2="1851.30" stroke="#000" stroke-width="2.4" />
<line x1="582.64" y1="2280.30" x2="582.64" y2="2273.80" stroke="#000" stroke-width="2.4" />
<line x1="634.80" y1="1844.80" x2="634.80" y2="1851.30" stroke="#000" stroke-width="2.4" />
<line x1="634.80" y1="2280.30" x2="634.80" y2="2273.80" stroke="#000" stroke-width="2.4" />
<line x1="686.96" y1="1844.80" x2="686.96" y2="1851.30" stroke="#000" stroke-width="2.4" />
<line x1="686.96" y1="2280.30" x2="686.96" y2="2273.80" stroke="#000" stroke-width="2.4" />
<line x1="739.12" y1="1844.80" x2="739.12" y2="1851.30" stroke="#000" stroke-width="2.4" />
<line x1="739.12" y1="2280.30" x2="739.12" y2="2273.80" stroke="#000" stroke-width="2.4" />
<line x1="791.28" y1="1844.80" x2="791.28" y2="1851.30" stroke="#000" stroke-width="2.4" />
<line x1="791.28" y1="2280.30" x2="791.28" y2="2273.80" stroke="#000" stroke-width="2.4" />
<line x1="843.44" y1="1844.80" x2="843.44" y2="1851.30" stroke="#000" stroke-width="2.4" />
<line x1="843.44" y1="2280.30" x2="843.44" y2="2273.80" stroke="#000" stroke-width="2.4" />
<line x1="87.30" y1="2207.72" x2="93.80" y2="2207.72" stroke="#000" stroke-width="2.4" />
<line x1="870.80" y1="2207.72" x2="864.30" y2="2207.72" stroke="#000" stroke-width="2.4" />
<line x1="87.30" y1="2135.13" x2="93.80" y2="2135.13" stroke="#000" stroke-width="2.4" />
<line x1="870.80" y1="2135.13" x2="864.30" y2="2135.13" stroke="#000" stroke-width="2.4" />
<line x1="87.30" y1="2062.55" x2="93.80" y2="2062.55" stroke="#000" stroke-width="2.4" />
<line x1="870.80" y1="2062.55" x2="864.30" y2="2062.55" stroke="#000" stroke-width="2.4" />
<line x1="87.30" y1="1989.97" x2="93.80" y2="1989.97" stroke="#000" stroke-width="2.4" />
<line x1="870.80" y1="1989.97" x2="864.30" y2="1989.97" stroke="#000" stroke-width="2.4" />
<line x1="87.30" y1="1917.38" x2="93.80" y2="1917.38" stroke="#000" stroke-width="2.4" />
<line x1="870.80" y1="1917.38" x2="864.30" y2="1917.38" stroke="#000" stroke-width="2.4" />
<rect x="87.30" y="1844.80" width="783.50" height="435.50" fill="none" stroke="#000" stroke-width="2.6" />
<text x="47.34" y="2285.40" font-size="21.5" fill="#000" textLength="28.64" lengthAdjust="spacingAndGlyphs" stroke="#000" stroke-width="0.3">0,0</text>
<text x="47.60" y="2212.82" font-size="21.5" fill="#000" textLength="28.64" lengthAdjust="spacingAndGlyphs" stroke="#000" stroke-width="0.3">0,2</text>
<text x="47.13" y="2140.23" font-size="21.5" fill="#000" textLength="28.64" lengthAdjust="spacingAndGlyphs" stroke="#000" stroke-width="0.3">0,4</text>
<text x="47.44" y="2067.65" font-size="21.5" fill="#000" textLength="28.64" lengthAdjust="spacingAndGlyphs" stroke="#000" stroke-width="0.3">0,6</text>
<text x="47.44" y="1995.07" font-size="21.5" fill="#000" textLength="28.64" lengthAdjust="spacingAndGlyphs" stroke="#000" stroke-width="0.3">0,8</text>
<text x="47.34" y="1922.48" font-size="21.5" fill="#000" textLength="28.64" lengthAdjust="spacingAndGlyphs" stroke="#000" stroke-width="0.3">1,0</text>
<text x="47.60" y="1849.90" font-size="21.5" fill="#000" textLength="28.64" lengthAdjust="spacingAndGlyphs" stroke="#000" stroke-width="0.3">1,2</text>
<line x1="113.20" y1="2124.90" x2="113.20" y2="2174.80" stroke="#800000" stroke-width="2.4" />
<line x1="113.20" y1="2207.70" x2="113.20" y2="2232.10" stroke="#800000" stroke-width="2.4" />
<line x1="106.80" y1="2124.90" x2="119.60" y2="2124.90" stroke="#800000" stroke-width="2.7" />
<line x1="106.80" y1="2232.10" x2="119.60" y2="2232.10" stroke="#800000" stroke-width="2.7" />
<rect x="103.20" y="2174.80" width="20.00" height="32.90" fill="none" stroke="#800000" stroke-width="2.5" />
<rect x="108.70" y="2196.20" width="9.00" height="7.20" fill="none" stroke="#800000" stroke-width="2.4" />
<line x1="165.36" y1="2074.10" x2="165.36" y2="2185.90" stroke="#800000" stroke-width="2.4" />
<line x1="165.36" y1="2211.10" x2="165.36" y2="2225.60" stroke="#800000" stroke-width="2.4" />
<line x1="158.96" y1="2074.10" x2="171.76" y2="2074.10" stroke="#800000" stroke-width="2.7" />
<line x1="158.96" y1="2225.60" x2="171.76" y2="2225.60" stroke="#800000" stroke-width="2.7" />
<rect x="155.36" y="2185.90" width="20.00" height="25.20" fill="none" stroke="#800000" stroke-width="2.5" />
<rect x="160.86" y="2188.30" width="9.00" height="7.20" fill="none" stroke="#800000" stroke-width="2.4" />
<line x1="217.52" y1="2149.30" x2="217.52" y2="2178.20" stroke="#800000" stroke-width="2.4" />
<line x1="217.52" y1="2203.20" x2="217.52" y2="2225.60" stroke="#800000" stroke-width="2.4" />
<line x1="211.12" y1="2149.30" x2="223.92" y2="2149.30" stroke="#800000" stroke-width="2.7" />
<line x1="211.12" y1="2225.60" x2="223.92" y2="2225.60" stroke="#800000" stroke-width="2.7" />
<rect x="207.52" y="2178.20" width="20.00" height="25.00" fill="none" stroke="#800000" stroke-width="2.5" />
<rect x="213.02" y="2178.30" width="9.00" height="7.20" fill="none" stroke="#800000" stroke-width="2.4" />
<line x1="269.68" y1="2007.90" x2="269.68" y2="2185.90" stroke="#800000" stroke-width="2.4" />
<line x1="269.68" y1="2214.20" x2="269.68" y2="2240.00" stroke="#800000" stroke-width="2.4" />
<line x1="263.28" y1="2007.90" x2="276.08" y2="2007.90" stroke="#800000" stroke-width="2.7" />
<line x1="263.28" y1="2240.00" x2="276.08" y2="2240.00" stroke="#800000" stroke-width="2.7" />
<rect x="259.68" y="2185.90" width="20.00" height="28.30" fill="none" stroke="#800000" stroke-width="2.5" />
<rect x="265.18" y="2190.90" width="9.00" height="7.20" fill="none" stroke="#800000" stroke-width="2.4" />
<line x1="321.84" y1="2019.20" x2="321.84" y2="2118.30" stroke="#800000" stroke-width="2.4" />
<line x1="321.84" y1="2210.80" x2="321.84" y2="2232.10" stroke="#800000" stroke-width="2.4" />
<line x1="315.44" y1="2019.20" x2="328.24" y2="2019.20" stroke="#800000" stroke-width="2.7" />
<line x1="315.44" y1="2232.10" x2="328.24" y2="2232.10" stroke="#800000" stroke-width="2.7" />
<rect x="311.84" y="2118.30" width="20.00" height="92.50" fill="none" stroke="#800000" stroke-width="2.5" />
<rect x="317.34" y="2180.40" width="9.00" height="7.20" fill="none" stroke="#800000" stroke-width="2.4" />
<line x1="374.00" y1="1978.90" x2="374.00" y2="2167.60" stroke="#800000" stroke-width="2.4" />
<line x1="374.00" y1="2207.00" x2="374.00" y2="2218.10" stroke="#800000" stroke-width="2.4" />
<line x1="367.60" y1="1978.90" x2="380.40" y2="1978.90" stroke="#800000" stroke-width="2.7" />
<line x1="367.60" y1="2218.10" x2="380.40" y2="2218.10" stroke="#800000" stroke-width="2.7" />
<rect x="364.00" y="2167.60" width="20.00" height="39.40" fill="none" stroke="#800000" stroke-width="2.5" />
<rect x="369.50" y="2190.30" width="9.00" height="7.20" fill="none" stroke="#800000" stroke-width="2.4" />
<line x1="426.16" y1="2034.10" x2="426.16" y2="2158.10" stroke="#800000" stroke-width="2.4" />
<line x1="426.16" y1="2213.60" x2="426.16" y2="2236.00" stroke="#800000" stroke-width="2.4" />
<line x1="419.76" y1="2034.10" x2="432.56" y2="2034.10" stroke="#800000" stroke-width="2.7" />
<line x1="419.76" y1="2236.00" x2="432.56" y2="2236.00" stroke="#800000" stroke-width="2.7" />
<rect x="416.16" y="2158.10" width="20.00" height="55.50" fill="none" stroke="#800000" stroke-width="2.5" />
<rect x="421.66" y="2193.50" width="9.00" height="7.20" fill="none" stroke="#800000" stroke-width="2.4" />
<line x1="478.32" y1="2001.20" x2="478.32" y2="2162.10" stroke="#800000" stroke-width="2.4" />
<line x1="478.32" y1="2220.20" x2="478.32" y2="2232.50" stroke="#800000" stroke-width="2.4" />
<line x1="471.92" y1="2001.20" x2="484.72" y2="2001.20" stroke="#800000" stroke-width="2.7" />
<line x1="471.92" y1="2232.50" x2="484.72" y2="2232.50" stroke="#800000" stroke-width="2.7" />
<rect x="468.32" y="2162.10" width="20.00" height="58.10" fill="none" stroke="#800000" stroke-width="2.5" />
<rect x="473.82" y="2188.20" width="9.00" height="7.20" fill="none" stroke="#800000" stroke-width="2.4" />
<line x1="530.48" y1="1914.50" x2="530.48" y2="2172.60" stroke="#800000" stroke-width="2.4" />
<line x1="530.48" y1="2230.70" x2="530.48" y2="2236.00" stroke="#800000" stroke-width="2.4" />
<line x1="524.08" y1="1914.50" x2="536.88" y2="1914.50" stroke="#800000" stroke-width="2.7" />
<line x1="524.08" y1="2236.00" x2="536.88" y2="2236.00" stroke="#800000" stroke-width="2.7" />
<rect x="520.48" y="2172.60" width="20.00" height="58.10" fill="none" stroke="#800000" stroke-width="2.5" />
<rect x="525.98" y="2201.30" width="9.00" height="7.20" fill="none" stroke="#800000" stroke-width="2.4" />
<line x1="582.64" y1="1946.80" x2="582.64" y2="2125.60" stroke="#800000" stroke-width="2.4" />
<line x1="582.64" y1="2213.60" x2="582.64" y2="2218.10" stroke="#800000" stroke-width="2.4" />
<line x1="576.24" y1="1946.80" x2="589.04" y2="1946.80" stroke="#800000" stroke-width="2.7" />
<line x1="576.24" y1="2218.10" x2="589.04" y2="2218.10" stroke="#800000" stroke-width="2.7" />
<rect x="572.64" y="2125.60" width="20.00" height="88.00" fill="none" stroke="#800000" stroke-width="2.5" />
<rect x="578.14" y="2196.10" width="9.00" height="7.20" fill="none" stroke="#800000" stroke-width="2.4" />
<line x1="634.80" y1="2200.00" x2="634.80" y2="2211.50" stroke="#800000" stroke-width="2.4" />
<line x1="634.80" y1="2236.20" x2="634.80" y2="2247.70" stroke="#800000" stroke-width="2.4" />
<line x1="628.40" y1="2200.00" x2="641.20" y2="2200.00" stroke="#800000" stroke-width="2.7" />
<line x1="628.40" y1="2247.70" x2="641.20" y2="2247.70" stroke="#800000" stroke-width="2.7" />
<rect x="624.80" y="2211.50" width="20.00" height="24.70" fill="none" stroke="#800000" stroke-width="2.5" />
<rect x="630.30" y="2223.20" width="9.00" height="7.20" fill="none" stroke="#800000" stroke-width="2.4" />
<line x1="686.96" y1="1928.10" x2="686.96" y2="2189.30" stroke="#800000" stroke-width="2.4" />
<line x1="686.96" y1="2216.90" x2="686.96" y2="2225.50" stroke="#800000" stroke-width="2.4" />
<line x1="680.56" y1="1928.10" x2="693.36" y2="1928.10" stroke="#800000" stroke-width="2.7" />
<line x1="680.56" y1="2225.50" x2="693.36" y2="2225.50" stroke="#800000" stroke-width="2.7" />
<rect x="676.96" y="2189.30" width="20.00" height="27.60" fill="none" stroke="#800000" stroke-width="2.5" />
<rect x="682.46" y="2201.80" width="9.00" height="7.20" fill="none" stroke="#800000" stroke-width="2.4" />
<line x1="739.12" y1="1968.80" x2="739.12" y2="2140.30" stroke="#800000" stroke-width="2.4" />
<line x1="739.12" y1="2197.90" x2="739.12" y2="2221.50" stroke="#800000" stroke-width="2.4" />
<line x1="732.72" y1="1968.80" x2="745.52" y2="1968.80" stroke="#800000" stroke-width="2.7" />
<line x1="732.72" y1="2221.50" x2="745.52" y2="2221.50" stroke="#800000" stroke-width="2.7" />
<rect x="729.12" y="2140.30" width="20.00" height="57.60" fill="none" stroke="#800000" stroke-width="2.5" />
<rect x="734.62" y="2172.30" width="9.00" height="7.20" fill="none" stroke="#800000" stroke-width="2.4" />
<line x1="791.28" y1="2001.30" x2="791.28" y2="2145.10" stroke="#800000" stroke-width="2.4" />
<line x1="791.28" y1="2226.00" x2="791.28" y2="2247.70" stroke="#800000" stroke-width="2.4" />
<line x1="784.88" y1="2001.30" x2="797.68" y2="2001.30" stroke="#800000" stroke-width="2.7" />
<line x1="784.88" y1="2247.70" x2="797.68" y2="2247.70" stroke="#800000" stroke-width="2.7" />
<rect x="781.28" y="2145.10" width="20.00" height="80.90" fill="none" stroke="#800000" stroke-width="2.5" />
<rect x="786.78" y="2193.80" width="9.00" height="7.20" fill="none" stroke="#800000" stroke-width="2.4" />
<line x1="843.44" y1="2011.70" x2="843.44" y2="2189.30" stroke="#800000" stroke-width="2.4" />
<line x1="843.44" y1="2230.80" x2="843.44" y2="2243.70" stroke="#800000" stroke-width="2.4" />
<line x1="837.04" y1="2011.70" x2="849.84" y2="2011.70" stroke="#800000" stroke-width="2.7" />
<line x1="837.04" y1="2243.70" x2="849.84" y2="2243.70" stroke="#800000" stroke-width="2.7" />
<rect x="833.44" y="2189.30" width="20.00" height="41.50" fill="none" stroke="#800000" stroke-width="2.5" />
<rect x="838.94" y="2210.40" width="9.00" height="7.20" fill="none" stroke="#800000" stroke-width="2.4" />
<text x="100.95" y="2309.80" font-size="22.2" fill="#000" textLength="25.09" lengthAdjust="spacingAndGlyphs" stroke="#000" stroke-width="0.3">T1</text>
<text x="153.13" y="2309.80" font-size="22.2" fill="#000" textLength="25.09" lengthAdjust="spacingAndGlyphs" stroke="#000" stroke-width="0.3">T2</text>
<text x="205.21" y="2309.80" font-size="22.2" fill="#000" textLength="25.09" lengthAdjust="spacingAndGlyphs" stroke="#000" stroke-width="0.3">T3</text>
<text x="257.21" y="2309.80" font-size="22.2" fill="#000" textLength="25.09" lengthAdjust="spacingAndGlyphs" stroke="#000" stroke-width="0.3">T4</text>
<text x="309.50" y="2309.80" font-size="22.2" fill="#000" textLength="25.09" lengthAdjust="spacingAndGlyphs" stroke="#000" stroke-width="0.3">T5</text>
<text x="361.69" y="2309.80" font-size="22.2" fill="#000" textLength="25.09" lengthAdjust="spacingAndGlyphs" stroke="#000" stroke-width="0.3">T6</text>
<text x="413.93" y="2309.80" font-size="22.2" fill="#000" textLength="25.09" lengthAdjust="spacingAndGlyphs" stroke="#000" stroke-width="0.3">T7</text>
<text x="466.01" y="2309.80" font-size="22.2" fill="#000" textLength="25.09" lengthAdjust="spacingAndGlyphs" stroke="#000" stroke-width="0.3">T8</text>
<text x="518.20" y="2309.80" font-size="22.2" fill="#000" textLength="25.09" lengthAdjust="spacingAndGlyphs" stroke="#000" stroke-width="0.3">T9</text>
<text x="564.28" y="2309.80" font-size="22.2" fill="#000" textLength="37.05" lengthAdjust="spacingAndGlyphs" stroke="#000" stroke-width="0.3">T10</text>
<text x="617.36" y="2309.80" font-size="22.2" fill="#000" textLength="35.45" lengthAdjust="spacingAndGlyphs" stroke="#000" stroke-width="0.3">T11</text>
<text x="668.74" y="2309.80" font-size="22.2" fill="#000" textLength="37.05" lengthAdjust="spacingAndGlyphs" stroke="#000" stroke-width="0.3">T12</text>
<text x="720.82" y="2309.80" font-size="22.2" fill="#000" textLength="37.05" lengthAdjust="spacingAndGlyphs" stroke="#000" stroke-width="0.3">T13</text>
<text x="772.82" y="2309.80" font-size="22.2" fill="#000" textLength="37.05" lengthAdjust="spacingAndGlyphs" stroke="#000" stroke-width="0.3">T14</text>
<text x="825.11" y="2309.80" font-size="22.2" fill="#000" textLength="37.05" lengthAdjust="spacingAndGlyphs" stroke="#000" stroke-width="0.3">T15</text>
<text x="433.11" y="1787.00" font-size="21.3" fill="#000" textLength="152.84" lengthAdjust="spacingAndGlyphs" stroke="#000" stroke-width="0.3">Boxplot byGroup</text>
<text x="356.50" y="1822.40" font-size="21.3" fill="#000" textLength="300.80" lengthAdjust="spacingAndGlyphs" stroke="#000" stroke-width="0.3">Variable: waviness parameter Wa</text>
<text x="41.67" y="1823.09" font-size="20.27" fill="#000" style='font-family:"Liberation Sans", sans-serif' textLength="42.96" lengthAdjust="spacingAndGlyphs">[µm]</text>
<text x="423.70" y="2351.90" font-size="21.3" fill="#000" textLength="105.71" lengthAdjust="spacingAndGlyphs" stroke="#000" stroke-width="0.3">test number</text>
<text transform="translate(29.20 2062.40) rotate(-90)" x="-111.15" y="0" font-size="21.3" textLength="222.33" lengthAdjust="spacingAndGlyphs" stroke="#000" stroke-width="0.3">waviness parameter Wa</text>
<rect x="889.20" y="2285.50" width="9.00" height="8.50" fill="none" stroke="#800000" stroke-width="2.4" />
<rect x="886.50" y="2306.70" width="17.80" height="20.80" fill="none" stroke="#800000" stroke-width="2.6" />
<line x1="886.00" y1="2335.00" x2="905.00" y2="2335.00" stroke="#800000" stroke-width="2.6" />
<line x1="886.00" y1="2355.30" x2="905.00" y2="2355.30" stroke="#800000" stroke-width="2.6" />
<line x1="895.50" y1="2335.00" x2="895.50" y2="2355.30" stroke="#800000" stroke-width="2.4" />
<text x="910.26" y="2297.00" font-size="21.3" fill="#000" textLength="17.60" lengthAdjust="spacingAndGlyphs" stroke="#000" stroke-width="0.3">M</text>
<text x="930.66" y="2297.00" font-size="21.3" fill="#000" textLength="59.20" lengthAdjust="spacingAndGlyphs" stroke="#000" stroke-width="0.3">ediana</text>
<text x="910.46" y="2324.40" font-size="21.3" fill="#000" textLength="90.34" lengthAdjust="spacingAndGlyphs" stroke="#000" stroke-width="0.3">25%-75%</text>
<text x="910.26" y="2351.80" font-size="21.3" fill="#000" textLength="17.60" lengthAdjust="spacingAndGlyphs" stroke="#000" stroke-width="0.3">M</text>
<text x="928.97" y="2351.80" font-size="21.3" fill="#000" textLength="23.56" lengthAdjust="spacingAndGlyphs" stroke="#000" stroke-width="0.3">in-</text>
<text x="953.15" y="2351.80" font-size="21.3" fill="#000" textLength="18.72" lengthAdjust="spacingAndGlyphs" stroke="#000" stroke-width="0.3">M</text>
<text x="974.13" y="2351.80" font-size="21.3" fill="#000" textLength="28.23" lengthAdjust="spacingAndGlyphs" stroke="#000" stroke-width="0.3">aks</text>
</svg>
</body></html>
